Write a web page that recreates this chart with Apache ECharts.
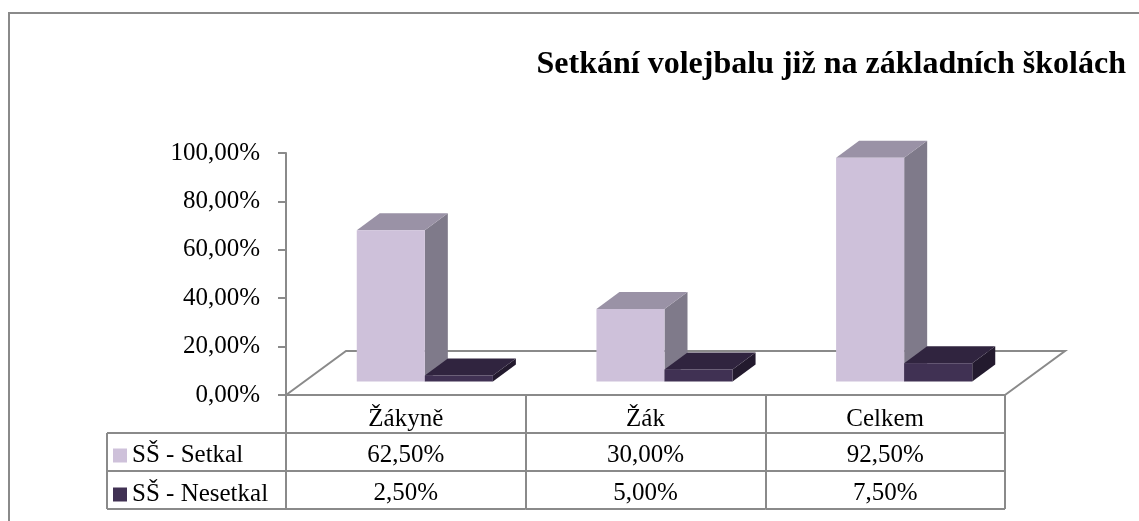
<!DOCTYPE html>
<html>
<head>
<meta charset="utf-8">
<script src="https://cdn.jsdelivr.net/npm/echarts@6/dist/echarts.min.js"></script>
<style>
html,body{margin:0;padding:0;background:#fff;}
#chart{width:1139px;height:521px;}
</style>
</head>
<body>
<div id="chart"></div>
<script>
// ---- data ----
const titleText = 'Setkání volejbalu již na základních školách';
const categories = ['Žákyně', 'Žák', 'Celkem'];
const seriesNames = ['SŠ - Setkal', 'SŠ - Nesetkal'];
const setkal = [62.5, 30.0, 92.5];
const nesetkal = [2.5, 5.0, 7.5];
const yMin = 0, yMax = 100, yStep = 20;

// ---- styles ----
const FONT = '"Liberation Serif", "Times New Roman", serif';
const LINE = '#8a8a8a';
const FLOOR_D = [60, -44];      // floor depth offset (px)
const BAR_SHIFT = [19, -13.5];  // bars' front plane offset
const BAR_D = [23, -17];        // bar depth offset
const BAR_FRAC = 0.284;         // bar width as fraction of category band
const ROW_H = 38;
const LEG_COL_W = 179;
const TXT_DY = 3;
const palettes = [
  { front: '#cec1da', top: '#9a92a6', side: '#7f7a8a' },
  { front: '#403153', top: '#30243f', side: '#231a2e' }
];
const fmt = v => v.toFixed(2).replace('.', ',') + '%';

const chart = echarts.init(document.getElementById('chart'), null, { renderer: 'canvas' });

function floorItem(params, api) {
  const p0 = api.coord([0, 0]);
  const band = api.size([1, 0])[0];
  const xL = p0[0] - band / 2, xR = xL + band * categories.length, y0 = p0[1];
  return {
    type: 'polyline',
    shape: { points: [[xL, y0], [xL + FLOOR_D[0], y0 + FLOOR_D[1]], [xR + FLOOR_D[0], y0 + FLOOR_D[1]], [xR, y0]] },
    style: { stroke: LINE, lineWidth: 2, fill: null }
  };
}

function barRenderer(sIdx) {
  return function (params, api) {
    const i = api.value(0), v = api.value(1);
    const base = api.coord([i, 0]);
    const top = api.coord([i, v]);
    const band = api.size([1, 0])[0];
    const w = band * BAR_FRAC;
    const x1 = base[0] + BAR_SHIFT[0] + (sIdx - 1) * w;
    const x2 = x1 + w;
    const yb = base[1] + BAR_SHIFT[1];
    const yt = top[1] + BAR_SHIFT[1];
    const c = palettes[sIdx];
    const dx = BAR_D[0], dy = BAR_D[1];
    return {
      type: 'group',
      children: [
        { type: 'polygon', shape: { points: [[x2, yb], [x2 + dx, yb + dy], [x2 + dx, yt + dy], [x2, yt]] }, style: { fill: c.side } },
        { type: 'polygon', shape: { points: [[x1, yt], [x1 + dx, yt + dy], [x2 + dx, yt + dy], [x2, yt]] }, style: { fill: c.top } },
        { type: 'rect', shape: { x: x1, y: yt, width: w, height: yb - yt }, style: { fill: c.front } }
      ]
    };
  };
}

function tableItem(params, api) {
  const i = api.value(0);
  const p = api.coord([i, 0]);
  const band = api.size([1, 0])[0];
  const xL = p[0] - band / 2, xR = xL + band, y0 = p[1];
  const children = [];
  for (let r = 1; r <= 3; r++) {
    children.push({ type: 'line', shape: { x1: xL, y1: y0 + r * ROW_H, x2: xR, y2: y0 + r * ROW_H }, style: { stroke: LINE, lineWidth: 2 } });
  }
  const vals = [api.value(1), api.value(2)];
  vals.forEach((v, k) => {
    children.push({
      type: 'text',
      style: { text: fmt(v), x: p[0], y: y0 + ROW_H * (k + 1.5) + TXT_DY, align: 'center', verticalAlign: 'middle',
               fontSize: 25, fontFamily: FONT, fill: '#000' }
    });
  });
  if (i === 0) {
    const lx = xL - LEG_COL_W;
    for (let r = 1; r <= 3; r++) {
      children.push({ type: 'line', shape: { x1: lx, y1: y0 + r * ROW_H, x2: xL, y2: y0 + r * ROW_H }, style: { stroke: LINE, lineWidth: 2 } });
    }
    children.push({ type: 'line', shape: { x1: lx, y1: y0 + ROW_H, x2: lx, y2: y0 + 3 * ROW_H }, style: { stroke: LINE, lineWidth: 2 } });
  }
  return { type: 'group', children };
}

const option = {
  animation: false,
  backgroundColor: '#fff',
  title: {
    text: titleText, right: 8, top: 44,
    textStyle: { fontFamily: FONT, fontSize: 32, fontWeight: 'bold', color: '#000' }
  },
  legend: {
    data: seriesNames, orient: 'vertical', left: 113, top: 443, padding: 0,
    itemWidth: 14, itemHeight: 14, itemGap: 14, icon: 'rect', selectedMode: false,
    textStyle: { fontFamily: FONT, fontSize: 25, color: '#000', lineHeight: 24 }
  },
  graphic: [{
    type: 'rect', shape: { x: 9, y: 13, width: 1200, height: 600 },
    style: { fill: null, stroke: LINE, lineWidth: 2 }, silent: true, z: -10
  }],
  grid: { left: 286, top: 153, width: 719, height: 242 },
  xAxis: {
    type: 'category', data: categories, boundaryGap: true,
    axisLine: { show: true, lineStyle: { color: LINE, width: 2 } },
    axisTick: { show: true, inside: false, length: 114, lineStyle: { color: LINE, width: 2 } },
    axisLabel: { margin: 12, fontFamily: FONT, fontSize: 25, color: '#000' },
    splitLine: { show: false }
  },
  yAxis: {
    type: 'value', min: yMin, max: yMax, interval: yStep,
    axisLine: { show: true, lineStyle: { color: LINE, width: 2 } },
    axisTick: { show: true, length: 8, lineStyle: { color: LINE, width: 2 } },
    axisLabel: { margin: 26, formatter: v => fmt(v), fontFamily: FONT, fontSize: 25, color: '#000' },
    splitLine: { show: false }
  },
  series: [
    { type: 'custom', name: 'floor', renderItem: floorItem, data: [[0, 0]], z: 1, silent: true },
    { type: 'custom', name: seriesNames[0], renderItem: barRenderer(0), itemStyle: { color: palettes[0].front },
      data: setkal.map((v, i) => [i, v]), z: 2 },
    { type: 'custom', name: seriesNames[1], renderItem: barRenderer(1), itemStyle: { color: palettes[1].front },
      data: nesetkal.map((v, i) => [i, v]), z: 3 },
    { type: 'custom', name: 'table', renderItem: tableItem, silent: true, z: 4,
      data: categories.map((c, i) => [i, setkal[i], nesetkal[i]]) }
  ]
};
chart.setOption(option);
</script>
</body>
</html>
